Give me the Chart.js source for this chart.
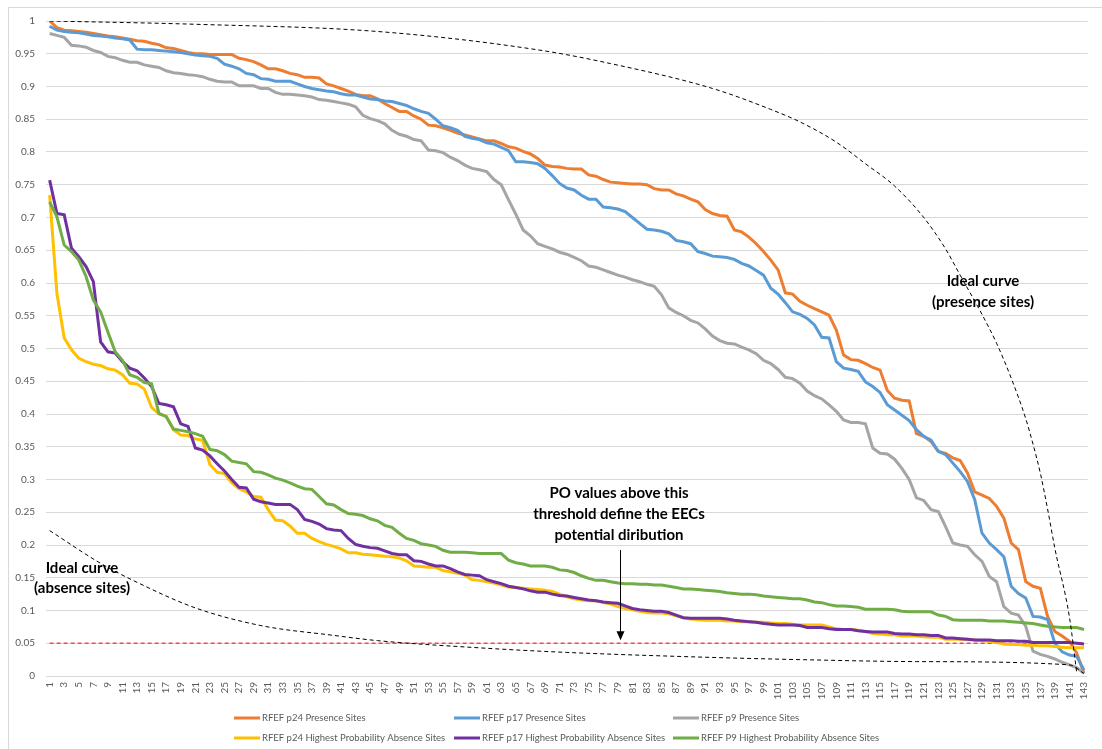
<!DOCTYPE html>
<html>
<head>
<meta charset="utf-8">
<title>RFEF presence / absence probability curves</title>
<script src="https://cdn.jsdelivr.net/npm/chart.js@4.4.1/dist/chart.umd.min.js"></script>
<style>
    body { margin: 0; background: #fff; }
    .wrap { position: relative; width: 1102px; height: 749px; overflow: hidden; }
    .frame { position: absolute; left: 8px; top: 7px; width: 1110px; height: 760px; border: 1px solid #d9d9d9; }
    canvas { position: absolute; left: 0; top: 0; }
</style>
</head>
<body>
<div class="wrap">
    <div class="frame"></div>
    <canvas id="chart" width="1102" height="749"></canvas>
</div>
<script>
// Site rank (x axis categories)
const categories = [
    1, 2, 3, 4, 5, 6, 7, 8, 9, 10, 11, 12, 13, 14, 15, 16, 17, 18, 19, 20,
    21, 22, 23, 24, 25, 26, 27, 28, 29, 30, 31, 32, 33, 34, 35, 36, 37, 38, 39, 40,
    41, 42, 43, 44, 45, 46, 47, 48, 49, 50, 51, 52, 53, 54, 55, 56, 57, 58, 59, 60,
    61, 62, 63, 64, 65, 66, 67, 68, 69, 70, 71, 72, 73, 74, 75, 76, 77, 78, 79, 80,
    81, 82, 83, 84, 85, 86, 87, 88, 89, 90, 91, 92, 93, 94, 95, 96, 97, 98, 99, 100,
    101, 102, 103, 104, 105, 106, 107, 108, 109, 110, 111, 112, 113, 114, 115, 116, 117, 118, 119, 120,
    121, 122, 123, 124, 125, 126, 127, 128, 129, 130, 131, 132, 133, 134, 135, 136, 137, 138, 139, 140,
    141, 142, 143
];

// Presence sites
const p24Presence = [
    1.0, 0.99, 0.986, 0.985, 0.984, 0.983, 0.981, 0.979, 0.977, 0.976, 0.974, 0.972, 0.970, 0.969, 0.966, 0.964, 0.959, 0.958, 0.955, 0.952,
    0.950, 0.950, 0.949, 0.949, 0.949, 0.949, 0.943, 0.941, 0.938, 0.933, 0.927, 0.927, 0.924, 0.920, 0.918, 0.914, 0.914, 0.913, 0.904, 0.901,
    0.897, 0.893, 0.888, 0.886, 0.886, 0.881, 0.874, 0.868, 0.862, 0.862, 0.855, 0.850, 0.841, 0.840, 0.837, 0.833, 0.829, 0.826, 0.823, 0.820,
    0.817, 0.817, 0.813, 0.808, 0.806, 0.801, 0.797, 0.790, 0.780, 0.778, 0.777, 0.775, 0.774, 0.774, 0.765, 0.763, 0.758, 0.754, 0.753, 0.752,
    0.751, 0.751, 0.750, 0.744, 0.742, 0.742, 0.736, 0.733, 0.728, 0.724, 0.712, 0.706, 0.703, 0.702, 0.681, 0.678, 0.670, 0.660, 0.648, 0.635,
    0.620, 0.585, 0.583, 0.572, 0.566, 0.561, 0.556, 0.551, 0.528, 0.490, 0.483, 0.482, 0.477, 0.471, 0.467, 0.436, 0.424, 0.421, 0.420, 0.370,
    0.366, 0.358, 0.343, 0.340, 0.333, 0.329, 0.310, 0.281, 0.276, 0.271, 0.259, 0.241, 0.203, 0.193, 0.144, 0.137, 0.134, 0.091, 0.068, 0.061,
    0.053, 0.035, 0.004
];
const p17Presence = [
    0.992, 0.986, 0.984, 0.983, 0.982, 0.980, 0.978, 0.977, 0.976, 0.974, 0.973, 0.971, 0.957, 0.956, 0.956, 0.955, 0.954, 0.953, 0.952, 0.950,
    0.948, 0.947, 0.946, 0.943, 0.934, 0.931, 0.927, 0.920, 0.918, 0.912, 0.911, 0.908, 0.908, 0.908, 0.904, 0.900, 0.897, 0.895, 0.893, 0.892,
    0.889, 0.887, 0.887, 0.884, 0.881, 0.880, 0.878, 0.877, 0.874, 0.871, 0.866, 0.862, 0.859, 0.850, 0.840, 0.837, 0.833, 0.824, 0.821, 0.819,
    0.814, 0.812, 0.807, 0.802, 0.785, 0.785, 0.784, 0.782, 0.775, 0.764, 0.752, 0.745, 0.742, 0.734, 0.728, 0.728, 0.716, 0.715, 0.713, 0.709,
    0.700, 0.691, 0.682, 0.681, 0.679, 0.675, 0.665, 0.663, 0.660, 0.648, 0.645, 0.641, 0.640, 0.639, 0.636, 0.630, 0.626, 0.619, 0.612, 0.592,
    0.583, 0.570, 0.556, 0.552, 0.546, 0.536, 0.517, 0.516, 0.480, 0.470, 0.468, 0.465, 0.449, 0.442, 0.433, 0.414, 0.406, 0.398, 0.390, 0.376,
    0.366, 0.360, 0.343, 0.338, 0.325, 0.312, 0.297, 0.269, 0.218, 0.203, 0.193, 0.182, 0.137, 0.126, 0.119, 0.091, 0.090, 0.086, 0.050, 0.037,
    0.032, 0.030, 0.009
];
const p9Presence = [
    0.981, 0.978, 0.975, 0.963, 0.962, 0.960, 0.955, 0.952, 0.946, 0.944, 0.940, 0.937, 0.937, 0.933, 0.931, 0.929, 0.924, 0.921, 0.920, 0.918,
    0.917, 0.915, 0.911, 0.908, 0.907, 0.907, 0.901, 0.901, 0.901, 0.897, 0.897, 0.891, 0.888, 0.888, 0.887, 0.886, 0.884, 0.880, 0.879, 0.877,
    0.875, 0.873, 0.869, 0.856, 0.851, 0.848, 0.843, 0.833, 0.827, 0.824, 0.819, 0.817, 0.803, 0.802, 0.799, 0.792, 0.787, 0.780, 0.775, 0.773,
    0.770, 0.758, 0.750, 0.727, 0.705, 0.681, 0.672, 0.660, 0.656, 0.652, 0.647, 0.644, 0.639, 0.634, 0.626, 0.624, 0.620, 0.616, 0.612, 0.609,
    0.605, 0.602, 0.598, 0.595, 0.582, 0.562, 0.555, 0.550, 0.543, 0.539, 0.530, 0.519, 0.512, 0.508, 0.507, 0.502, 0.498, 0.492, 0.482, 0.477,
    0.468, 0.456, 0.454, 0.447, 0.435, 0.428, 0.423, 0.414, 0.404, 0.391, 0.387, 0.387, 0.385, 0.348, 0.340, 0.339, 0.331, 0.317, 0.300, 0.272,
    0.268, 0.254, 0.251, 0.228, 0.203, 0.200, 0.198, 0.185, 0.175, 0.152, 0.144, 0.106, 0.096, 0.093, 0.076, 0.038, 0.033, 0.030, 0.026, 0.021,
    0.017, 0.013, 0.004
];

// Highest probability absence sites
const p24Absence = [
    0.734, 0.584, 0.516, 0.498, 0.485, 0.480, 0.476, 0.474, 0.469, 0.467, 0.460, 0.447, 0.446, 0.438, 0.410, 0.400, 0.397, 0.376, 0.368, 0.367,
    0.362, 0.360, 0.323, 0.311, 0.309, 0.295, 0.286, 0.281, 0.274, 0.273, 0.254, 0.238, 0.237, 0.229, 0.218, 0.218, 0.210, 0.205, 0.201, 0.198,
    0.194, 0.188, 0.188, 0.186, 0.185, 0.184, 0.183, 0.182, 0.180, 0.176, 0.168, 0.167, 0.166, 0.166, 0.161, 0.159, 0.157, 0.154, 0.147, 0.146,
    0.144, 0.142, 0.139, 0.136, 0.135, 0.134, 0.133, 0.132, 0.131, 0.129, 0.125, 0.121, 0.118, 0.116, 0.115, 0.115, 0.112, 0.110, 0.106, 0.103,
    0.101, 0.099, 0.097, 0.096, 0.096, 0.095, 0.092, 0.089, 0.087, 0.086, 0.085, 0.085, 0.085, 0.084, 0.084, 0.083, 0.083, 0.082, 0.082, 0.081,
    0.080, 0.080, 0.079, 0.078, 0.078, 0.078, 0.078, 0.075, 0.072, 0.071, 0.071, 0.070, 0.068, 0.065, 0.064, 0.063, 0.063, 0.061, 0.061, 0.061,
    0.060, 0.059, 0.059, 0.056, 0.056, 0.056, 0.056, 0.055, 0.054, 0.053, 0.051, 0.049, 0.048, 0.048, 0.047, 0.047, 0.046, 0.046, 0.045, 0.044,
    0.043, 0.043, 0.043
];
const p17Absence = [
    0.757, 0.706, 0.704, 0.653, 0.640, 0.625, 0.602, 0.510, 0.495, 0.493, 0.480, 0.470, 0.466, 0.455, 0.442, 0.416, 0.414, 0.411, 0.385, 0.381,
    0.348, 0.345, 0.336, 0.324, 0.313, 0.300, 0.288, 0.287, 0.270, 0.266, 0.264, 0.262, 0.262, 0.262, 0.254, 0.239, 0.236, 0.232, 0.225, 0.223,
    0.222, 0.210, 0.201, 0.198, 0.196, 0.195, 0.191, 0.187, 0.185, 0.185, 0.176, 0.175, 0.171, 0.168, 0.168, 0.164, 0.159, 0.155, 0.154, 0.153,
    0.147, 0.144, 0.141, 0.137, 0.135, 0.133, 0.130, 0.128, 0.128, 0.125, 0.123, 0.122, 0.120, 0.118, 0.116, 0.115, 0.113, 0.112, 0.111, 0.107,
    0.103, 0.101, 0.100, 0.099, 0.099, 0.097, 0.093, 0.089, 0.088, 0.088, 0.088, 0.088, 0.088, 0.087, 0.085, 0.084, 0.083, 0.082, 0.080, 0.079,
    0.078, 0.078, 0.078, 0.077, 0.074, 0.074, 0.074, 0.072, 0.071, 0.071, 0.071, 0.069, 0.068, 0.067, 0.067, 0.067, 0.065, 0.064, 0.064, 0.063,
    0.063, 0.062, 0.062, 0.058, 0.058, 0.057, 0.056, 0.055, 0.055, 0.055, 0.054, 0.054, 0.054, 0.053, 0.053, 0.051, 0.051, 0.051, 0.051, 0.051,
    0.051, 0.050, 0.049
];
const p9Absence = [
    0.724, 0.701, 0.658, 0.648, 0.635, 0.610, 0.574, 0.556, 0.525, 0.495, 0.482, 0.460, 0.456, 0.448, 0.446, 0.401, 0.396, 0.377, 0.375, 0.373,
    0.370, 0.366, 0.346, 0.344, 0.338, 0.328, 0.326, 0.324, 0.312, 0.311, 0.307, 0.302, 0.299, 0.295, 0.290, 0.286, 0.285, 0.274, 0.263, 0.261,
    0.254, 0.248, 0.247, 0.245, 0.240, 0.237, 0.230, 0.227, 0.218, 0.210, 0.207, 0.202, 0.200, 0.198, 0.192, 0.189, 0.189, 0.189, 0.188, 0.187,
    0.187, 0.187, 0.187, 0.177, 0.173, 0.171, 0.168, 0.168, 0.168, 0.166, 0.162, 0.161, 0.158, 0.153, 0.149, 0.146, 0.146, 0.144, 0.142, 0.141,
    0.141, 0.140, 0.140, 0.139, 0.139, 0.137, 0.135, 0.133, 0.133, 0.132, 0.131, 0.130, 0.129, 0.127, 0.126, 0.125, 0.125, 0.124, 0.122, 0.121,
    0.120, 0.119, 0.118, 0.118, 0.116, 0.113, 0.112, 0.109, 0.107, 0.107, 0.106, 0.105, 0.102, 0.102, 0.102, 0.102, 0.101, 0.099, 0.098, 0.098,
    0.098, 0.098, 0.093, 0.091, 0.086, 0.085, 0.085, 0.085, 0.085, 0.084, 0.084, 0.084, 0.083, 0.082, 0.081, 0.080, 0.078, 0.076, 0.075, 0.074,
    0.074, 0.074, 0.071
];

// Hand drawn "ideal" curves, read at a few ranks
const idealPresenceRanks = [1, 21, 46, 68, 78, 92, 100, 104, 109, 113, 117, 121, 124, 126, 129, 131, 133, 135, 136, 137, 138, 139, 141, 142];
const idealPresenceValues = [1.0, 0.995, 0.984, 0.956, 0.935, 0.897, 0.865, 0.846, 0.815, 0.782, 0.748, 0.700, 0.652, 0.612, 0.552, 0.508, 0.455, 0.393, 0.354, 0.310, 0.255, 0.195, 0.090, 0.005];
const idealAbsenceRanks = [1, 8, 13, 21, 30, 40, 46, 60, 72, 90, 104, 120, 141, 143];
const idealAbsenceValues = [0.222, 0.172, 0.143, 0.104, 0.077, 0.062, 0.054, 0.043, 0.036, 0.029, 0.025, 0.022, 0.017, 0.004];

// PO threshold
const thresholdValue = 0.05;

const seriesLabels = [
    'RFEF p24 Presence Sites', 'RFEF p17 Presence Sites', 'RFEF p9 Presence Sites',
    'RFEF p24 Highest Probability Absence Sites', 'RFEF p17 Highest Probability Absence Sites', 'RFEF P9 Highest Probability Absence Sites'
];
const seriesColors = ['#ED7D31', '#5B9BD5', '#A5A5A5', '#FFC000', '#7030A0', '#70AD47'];
const seriesValues = [p24Presence, p17Presence, p9Presence, p24Absence, p17Absence, p9Absence];

function toPoints(ranks, values) {
    return ranks.map((r, i) => ({ x: String(r), y: values[i] }));
}

const datasets = seriesValues.map((vals, i) => ({
    label: seriesLabels[i],
    data: vals,
    borderColor: seriesColors[i],
    backgroundColor: seriesColors[i],
    borderWidth: 3,
    order: 6 - i
}));

datasets.push({
    label: 'Ideal curve (presence sites)',
    data: toPoints(idealPresenceRanks, idealPresenceValues),
    borderColor: '#000',
    borderWidth: 1,
    borderDash: [4, 3],
    cubicInterpolationMode: 'monotone',
    order: 0
});
datasets.push({
    label: 'Ideal curve (absence sites)',
    data: toPoints(idealAbsenceRanks, idealAbsenceValues),
    borderColor: '#000',
    borderWidth: 1,
    borderDash: [4, 3],
    cubicInterpolationMode: 'monotone',
    order: 0
});

// threshold line, notes, arrow and the two row legend
const overlayPlugin = {
    id: 'overlay',
    beforeDatasetsDraw(chart) {
        const { ctx, scales: { x, y } } = chart;
        const yy = y.getPixelForValue(thresholdValue);
        ctx.save();
        ctx.strokeStyle = 'rgba(255, 40, 40, 0.85)';
        ctx.lineWidth = 1.3;
        ctx.setLineDash([4, 3]);
        ctx.beginPath();
        ctx.moveTo(x.getPixelForValue(0), yy);
        ctx.lineTo(x.getPixelForValue(categories.length - 1), yy);
        ctx.stroke();
        ctx.restore();
    },
    afterDraw(chart) {
        const { ctx, scales: { y } } = chart;
        ctx.save();

        // notes
        ctx.fillStyle = '#000';
        ctx.font = 'bold 15px Lato';
        ctx.textAlign = 'center';
        ctx.textBaseline = 'middle';
        const notes = [
            [983, 281, 'Ideal curve'], [983, 302, '(presence sites)'],
            [82, 568, 'Ideal curve'], [82, 588, '(absence sites)'],
            [619, 493, 'PO values above this'], [619, 514, 'threshold define the EECs'], [619, 535, 'potential diribution']
        ];
        notes.forEach(n => ctx.fillText(n[2], n[0], n[1]));

        // arrow pointing to the threshold
        const tipY = y.getPixelForValue(thresholdValue) - 3;
        ctx.strokeStyle = '#000';
        ctx.lineWidth = 1;
        ctx.beginPath();
        ctx.moveTo(620.5, 550);
        ctx.lineTo(620.5, tipY - 7);
        ctx.stroke();
        ctx.beginPath();
        ctx.moveTo(620.5, tipY);
        ctx.lineTo(616.5, tipY - 9);
        ctx.lineTo(624.5, tipY - 9);
        ctx.closePath();
        ctx.fill();

        // legend
        const cols = [234, 454, 673];
        const rows = [718, 738];
        ctx.font = '9.5px Lato';
        ctx.textAlign = 'left';
        ctx.fillStyle = '#595959';
        chart.data.datasets.slice(0, 6).forEach((ds, i) => {
            const lx = cols[i % 3];
            const ly = rows[Math.floor(i / 3)];
            ctx.strokeStyle = ds.borderColor;
            ctx.lineWidth = 3;
            ctx.beginPath();
            ctx.moveTo(lx, ly);
            ctx.lineTo(lx + 26, ly);
            ctx.stroke();
            ctx.fillText(ds.label, lx + 28, ly);
        });
        ctx.restore();
    }
};

Chart.defaults.font.family = 'Lato';

const ctx = document.getElementById('chart').getContext('2d');
new Chart(ctx, {
    type: 'line',
    data: {
        labels: categories.map(String),
        datasets: datasets
    },
    options: {
        responsive: false,
        animation: false,
        layout: { padding: { top: 21, right: 2, left: 0, bottom: 0 } },
        elements: {
            point: { radius: 0, hoverRadius: 0 },
            line: { tension: 0 }
        },
        plugins: {
            legend: { display: false },
            tooltip: { enabled: false }
        },
        scales: {
            x: {
                offset: true,
                grid: { display: false, drawTicks: false },
                border: { display: false },
                ticks: {
                    autoSkip: false,
                    minRotation: 90,
                    maxRotation: 90,
                    padding: 6,
                    color: '#595959',
                    font: { size: 10 },
                    callback: (val, i) => (i % 2 === 0 ? String(categories[i]) : '')
                },
                afterFit: axis => { axis.height = 73; }
            },
            y: {
                min: 0,
                max: 1,
                grid: { color: '#d9d9d9', drawTicks: false },
                border: { display: false },
                ticks: {
                    stepSize: 0.05,
                    maxTicksLimit: 30,
                    padding: 11,
                    color: '#595959',
                    font: { size: 10 },
                    callback: v => String(Number(v.toFixed(2)))
                },
                afterFit: axis => { axis.width = 46; }
            }
        }
    },
    plugins: [overlayPlugin]
});
</script>
</body>
</html>
